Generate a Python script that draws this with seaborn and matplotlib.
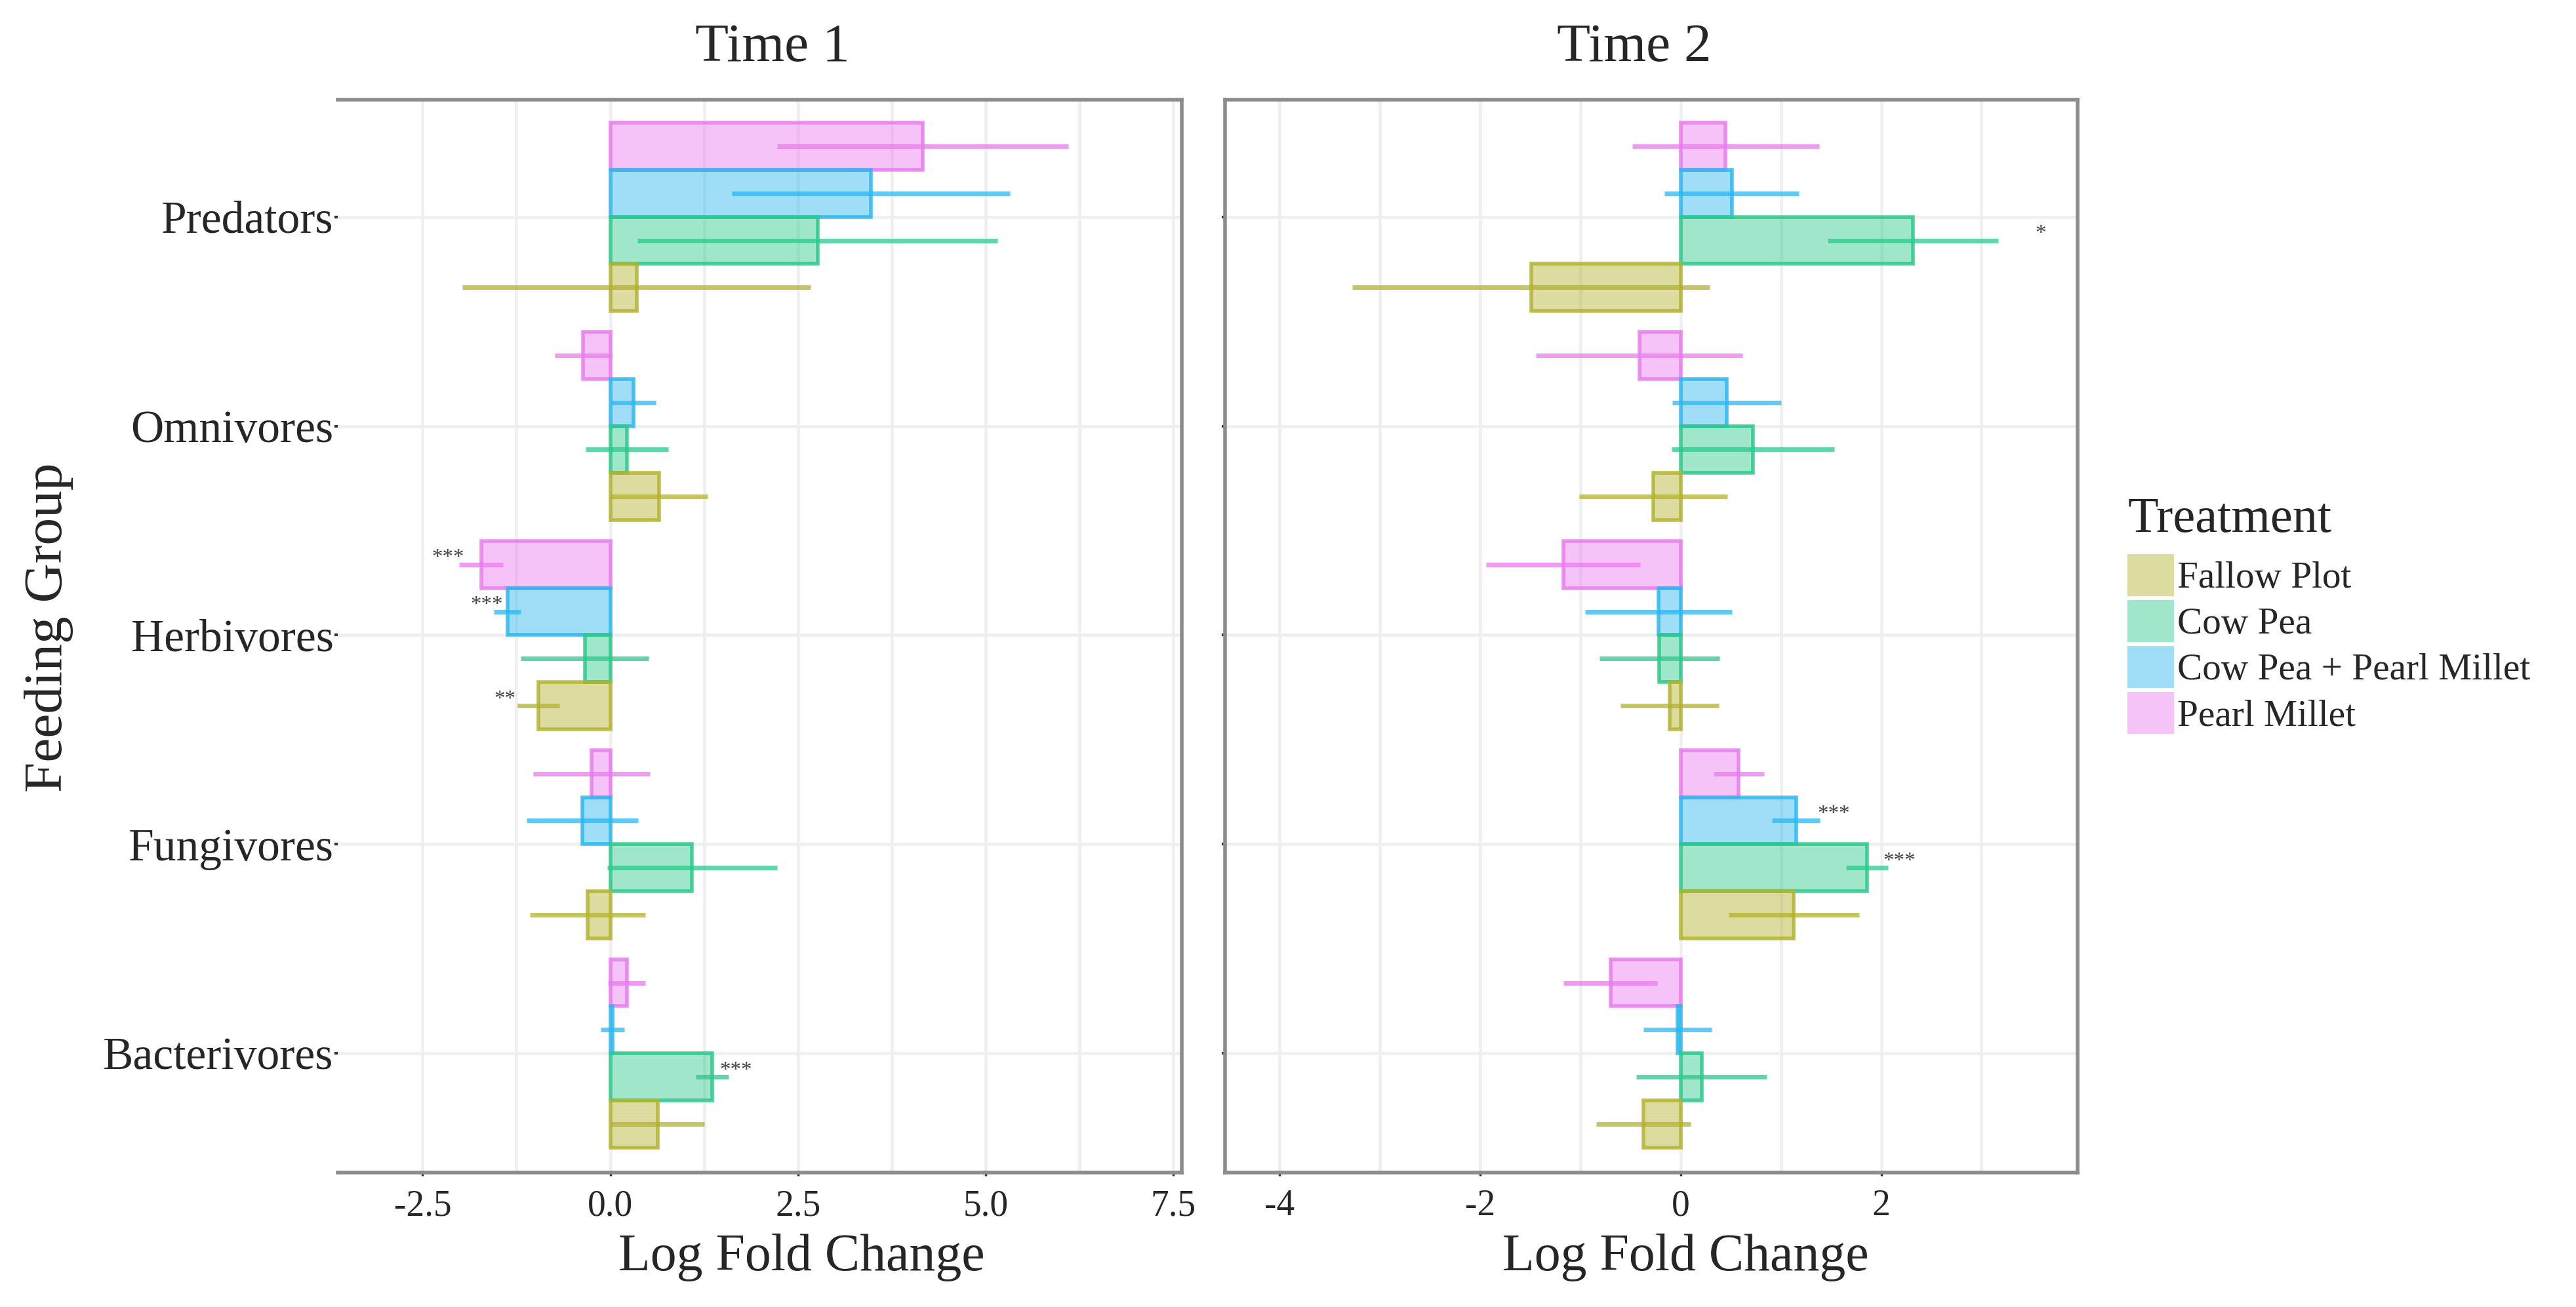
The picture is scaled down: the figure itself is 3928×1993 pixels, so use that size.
import numpy as np
import pandas as pd
import matplotlib
matplotlib.use('Agg')
import matplotlib.pyplot as plt
from matplotlib.patches import Patch
from matplotlib.colors import to_rgba
import seaborn as sns

# Categories
groups = ['Predators', 'Omnivores', 'Herbivores', 'Fungivores', 'Bacterivores']
treatments = ['Fallow Plot', 'Cow Pea', 'Cow Pea + Pearl Millet', 'Pearl Millet']
colors = ['#B3B22E', '#2CC98B', '#2CB7F0', '#E97BEE']

# Log fold change, one row per group, columns follow treatments
lfc_time1 = [[0.35, 2.76, 3.47, 4.16],
             [0.65, 0.22, 0.31, -0.36],
             [-0.96, -0.34, -1.37, -1.72],
             [-0.30, 1.09, -0.37, -0.25],
             [0.63, 1.36, 0.03, 0.22]]
# half width of the interval
ci_time1 = [[2.32, 2.40, 1.85, 1.94],
            [0.65, 0.55, 0.30, 0.38],
            [0.28, 0.85, 0.18, 0.29],
            [0.77, 1.13, 0.74, 0.78],
            [0.62, 0.22, 0.16, 0.25]]

lfc_time2 = [[-1.49, 2.32, 0.51, 0.45],
             [-0.27, 0.72, 0.46, -0.41],
             [-0.11, -0.21, -0.22, -1.17],
             [1.13, 1.86, 1.15, 0.58],
             [-0.37, 0.21, -0.03, -0.70]]
ci_time2 = [[1.78, 0.85, 0.67, 0.93],
            [0.74, 0.81, 0.54, 1.03],
            [0.49, 0.60, 0.73, 0.77],
            [0.65, 0.21, 0.24, 0.25],
            [0.47, 0.65, 0.34, 0.47]]

# significance labels: (group, treatment, label x, label)
stars_time1 = [('Herbivores', 'Pearl Millet', -2.16, '***'),
               ('Herbivores', 'Cow Pea + Pearl Millet', -1.65, '***'),
               ('Herbivores', 'Fallow Plot', -1.40, '**'),
               ('Bacterivores', 'Cow Pea', 1.67, '***')]
stars_time2 = [('Predators', 'Cow Pea', 3.59, '*'),
               ('Fungivores', 'Cow Pea + Pearl Millet', 1.53, '***'),
               ('Fungivores', 'Cow Pea', 2.18, '***')]

xticks_time1 = [-2.5, 0.0, 2.5, 5.0, 7.5]
xticklabels_time1 = ['-2.5', '0.0', '2.5', '5.0', '7.5']
xticks_time2 = [-4, -2, 0, 2]
xticklabels_time2 = ['-4', '-2', '0', '2']


def make_df(lfc, ci):
    rows = []
    for gi, g in enumerate(groups):
        for ti, t in enumerate(treatments):
            rows.append({'group': g, 'treatment': t, 'lfc': lfc[gi][ti], 'ci': ci[gi][ti]})
    return pd.DataFrame(rows)


df1 = make_df(lfc_time1, ci_time1)
df2 = make_df(lfc_time2, ci_time2)

sns.set_style('white')
plt.rcParams['font.family'] = ['Liberation Serif', 'DejaVu Serif']

palette = dict(zip(treatments, colors))
# ggplot dodge puts the first level at the bottom, so reverse for drawing
plot_order = treatments[::-1]
border = '#8C8C8C'
gridc = '#EFEFEF'


def draw_panel(ax, df, stars, title, xlim, xticks, xticklabels, minor, show_labels, label_x):
    sns.barplot(data=df, x='lfc', y='group', hue='treatment', order=groups,
                hue_order=plot_order, palette=palette, orient='h', width=0.9,
                errorbar=None, legend=False, ax=ax, zorder=3)
    centers = {}
    for j, cont in enumerate(ax.containers):
        t = plot_order[j]
        c = palette[t]
        for bar in cont:
            yc = bar.get_y() + bar.get_height() / 2
            g = groups[int(round(yc))]
            centers[(g, t)] = yc
            bar.set_facecolor(to_rgba(c, 0.45))
            bar.set_edgecolor(to_rgba(c, 0.85))
            bar.set_linewidth(1.6)
            row = df[(df['group'] == g) & (df['treatment'] == t)].iloc[0]
            ax.hlines(yc, row['lfc'] - row['ci'], row['lfc'] + row['ci'],
                      colors=[to_rgba(c, 0.75)], lw=2.0, zorder=4)
    for g, t, x, lab in stars:
        ax.text(x, centers[(g, t)] - 0.03, lab, ha='center', va='center',
                fontsize=9.5, color='#444444', zorder=5)

    ax.set_xlim(*xlim)
    ax.set_ylim(4.57, -0.56)
    ax.set_xticks(xticks)
    ax.set_xticklabels(xticklabels)
    ax.set_xticks(minor, minor=True)
    ax.set_axisbelow(True)
    ax.grid(which='both', axis='x', color=gridc, lw=1.3)
    ax.grid(which='major', axis='y', color=gridc, lw=1.3)
    ax.tick_params(axis='x', which='major', labelsize=16, length=1.3, width=1.0,
                   color='#333333', pad=6, bottom=True)
    ax.tick_params(axis='x', which='minor', length=0)
    ax.tick_params(axis='y', labelsize=20, length=1.3, width=1.2, color='#333333',
                   pad=0.5, left=True, labelleft=show_labels)
    for s in ax.spines.values():
        s.set_color(border)
        s.set_linewidth(1.6)
    ax.set_title(title, fontsize=24, pad=17)
    ax.set_xlabel('Log Fold Change', fontsize=23, labelpad=4.5)
    ax.xaxis.label.set_x(label_x)
    ax.set_ylabel('')


fig = plt.figure(figsize=(15.712, 7.972), dpi=250)
ax1 = fig.add_axes([0.1311, 0.1029, 0.3276, 0.8208])
ax2 = fig.add_axes([0.4756, 0.1029, 0.3310, 0.8208])

draw_panel(ax1, df1, stars_time1, 'Time 1', (-3.63, 7.61), xticks_time1,
           xticklabels_time1, [-1.25, 1.25, 3.75, 6.25], True, 0.55)
ax1.spines['left'].set_visible(False)
draw_panel(ax2, df2, stars_time2, 'Time 2', (-4.54, 3.96), xticks_time2,
           xticklabels_time2, [-3, -1, 1, 3], False, 0.54)
ax1.title.set_x(0.515)
ax2.title.set_x(0.48)

fig.text(0.019, 0.52, 'Feeding Group', rotation=90, fontsize=24,
         ha='center', va='center')

# legend
handles = [Patch(facecolor=to_rgba(c, 0.45), edgecolor='none', label=t)
           for t, c in zip(treatments, colors)]
fig.text(0.8259, 0.593, 'Treatment', fontsize=22, ha='left', va='baseline')
fig.legend(handles=handles, loc='upper left', bbox_to_anchor=(0.8259, 0.576),
           frameon=False, fontsize=16.5, handlelength=1.23, handleheight=1.35,
           handletextpad=0.1, labelspacing=0.1, borderpad=0, borderaxespad=0)

fig.savefig('out.png', dpi=250)
